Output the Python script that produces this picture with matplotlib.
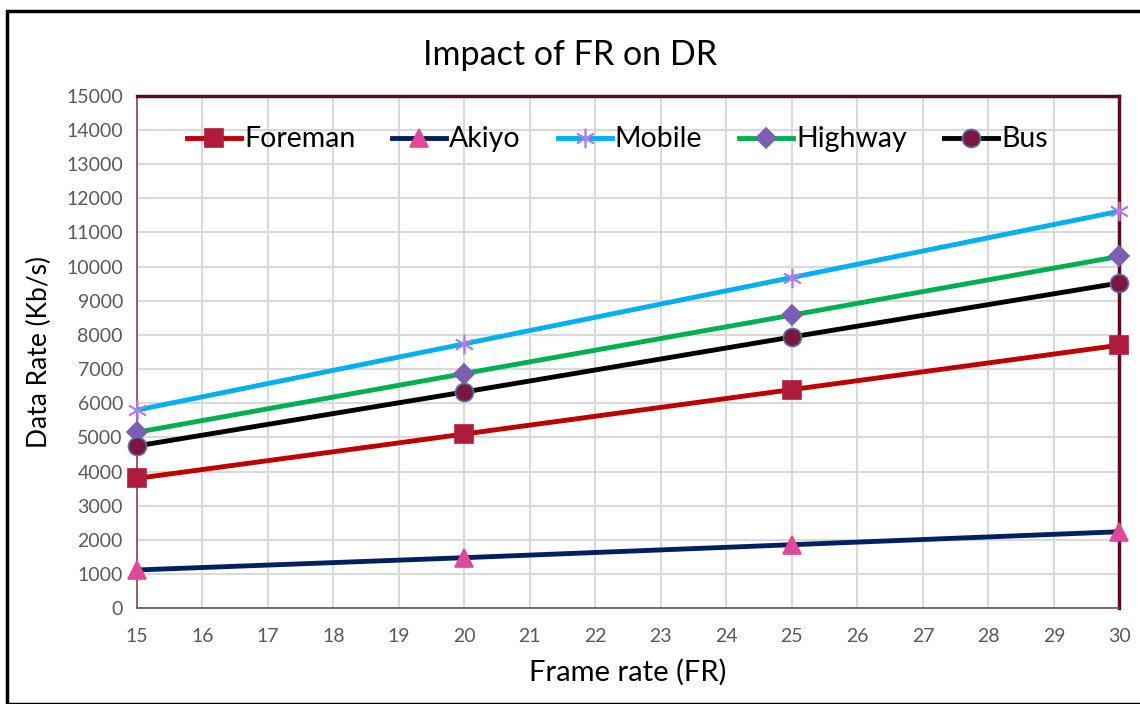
import matplotlib.pyplot as plt
from matplotlib.patches import Rectangle

plt.rcParams['font.family'] = ['Lato', 'DejaVu Sans']

frame_rate = [15, 20, 25, 30]
foreman = [3800, 5100, 6400, 7700]
akiyo = [1120, 1480, 1860, 2240]
mobile = [5800, 7740, 9680, 11620]
highway = [5150, 6870, 8580, 10300]
bus = [4750, 6330, 7940, 9520]

series = [
    ('Foreman', foreman, '#c00000', 's', '#b01c3c', '#b01c3c', 13),
    ('Akiyo', akiyo, '#002060', '^', '#e0489a', '#e0489a', 13),
    ('Mobile', mobile, '#00b0f0', (6, 2, 0), '#b57aee', '#b57aee', 14),
    ('Highway', highway, '#00b050', 'D', '#7b5fb5', '#7b5fb5', 10),
    ('Bus', bus, '#000000', 'o', '#7b1640', '#5a72a8', 13),
]

fig = plt.figure(figsize=(11.4, 7.04), dpi=100)
ax = fig.add_axes([0.120, 0.136, 0.862, 0.728])

for name, vals, lc, mk, mfc, mec, ms in series:
    ax.plot(frame_rate, vals, color=lc, lw=3.5, marker=mk, markersize=ms,
            markerfacecolor=mfc, markeredgecolor=mec, markeredgewidth=1.2,
            label=name, clip_on=False, zorder=3)

ax.set_xlim(15, 30)
ax.set_ylim(0, 15000)
ax.set_xticks(range(15, 31))
ax.set_yticks(range(0, 15001, 1000))
ax.grid(True, color='#d9d9d9', lw=1.5)
ax.set_axisbelow(True)
ax.tick_params(axis='both', length=0, labelsize=14, colors='#595959', pad=10)
ax.tick_params(axis='x', pad=14)

for side in ['top', 'right']:
    ax.spines[side].set_color('#5c0a1e')
    ax.spines[side].set_linewidth(2.5)
for side in ['left', 'bottom']:
    ax.spines[side].set_color('#7a4a55')
    ax.spines[side].set_linewidth(1.2)

fig.text(0.5, 0.922, 'Impact of FR on DR', fontsize=24.5, ha='center', va='center')
ax.set_xlabel('Frame rate (FR)', fontsize=21, labelpad=10)
ax.set_ylabel('Data Rate (Kb/s)', fontsize=19, labelpad=10)

ax.legend(loc='upper center', bbox_to_anchor=(0.489, 0.99), ncol=5, frameon=False,
          fontsize=20.5, handlelength=1.9, columnspacing=1.3, handletextpad=0.1)

fig.patches.append(Rectangle((0.006, 0.0), 1.0, 0.985, transform=fig.transFigure,
                             fill=False, edgecolor='black', lw=2.5))

fig.savefig('out.png', dpi=100)
